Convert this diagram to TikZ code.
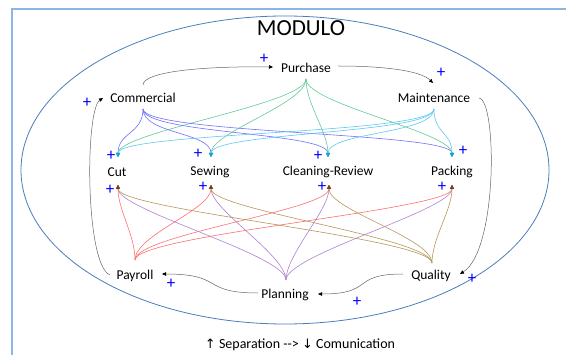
\documentclass[tikz,border=0pt]{standalone}
\usepackage{fontspec}
\setmainfont{Carlito}
\newfontfamily\arrowfont{DejaVu Sans}
\usetikzlibrary{arrows.meta}
\definecolor{frameblue}{RGB}{141,180,226}
\definecolor{ellblue}{RGB}{74,126,187}
\definecolor{cblu}{RGB}{110,110,255}
\definecolor{cgrn}{RGB}{100,200,150}
\definecolor{ccya}{RGB}{90,200,240}
\definecolor{cred}{RGB}{255,110,110}
\definecolor{cpur}{RGB}{175,130,210}
\definecolor{cbrn}{RGB}{180,150,90}
\definecolor{tiptop}{RGB}{20,165,205}
\definecolor{tipbot}{RGB}{125,65,20}
\definecolor{gline}{RGB}{100,100,100}
\begin{document}
\begin{tikzpicture}[x=1pt,y=-1pt,
  lbl/.style={font=\fontsize{13.5}{16}\selectfont, inner sep=0pt},
  plus/.style={text=blue, font=\fontsize{17}{18}\selectfont, inner sep=0pt},
  gcon/.style={draw=gline, line width=0.5pt, -{Triangle[length=4pt,width=3.5pt,color=black]}},
  toparr/.style={line width=0.6pt, draw=#1, -{Triangle[length=4pt,width=4pt,color=tiptop]}},
  botarr/.style={line width=0.6pt, draw=#1, -{Triangle[length=4pt,width=4pt,color=tipbot]}}]
\useasboundingbox (0,0) rectangle (566,355);
% frame
\draw[frameblue, line width=1.5pt] (12,355) -- (12,9) -- (566,9);
% ellipse
\draw[ellblue, line width=0.8pt] (285,170) ellipse [x radius=264, y radius=154];
% title
\node[lbl, font=\fontsize{23}{26}\selectfont] (modulo) at (301,28) {MODULO};
% labels
\node[lbl] (pur) at (306,68) {Purchase};
\node[lbl] (com) at (143,98) {Commercial};
\node[lbl] (mai) at (434,98) {Maintenance};
\node[lbl] (cut) at (117,172) {Cut};
\node[lbl] (sew) at (210,172) {Sewing};
\node[lbl] (cre) at (328,172) {Cleaning-Review};
\node[lbl] (pac) at (452,172) {Packing};
\node[lbl] (pay) at (135,276) {Payroll};
\node[lbl] (pla) at (285,295) {Planning};
\node[lbl] (qua) at (431,276) {Quality};
\node[lbl, font=\fontsize{14}{16}\selectfont] (note) at (300,345) {{\arrowfont\fontsize{13}{15}\selectfont↑} Separation -{}-{}> {\arrowfont\fontsize{13}{15}\selectfont↓} Comunication};
% anchor coordinates
\coordinate (comS) at (143,109);
\coordinate (purS) at (306,79);
\coordinate (maiS) at (434,109);
\coordinate (payS) at (135,260);
\coordinate (plaS) at (286,280);
\coordinate (quaS) at (432,263);
\coordinate (cutT) at (118,157);
\coordinate (sewT) at (211,157);
\coordinate (creT) at (328,157);
\coordinate (pacT) at (452,157);
\coordinate (cutB) at (118,185);
\coordinate (sewB) at (211,185);
\coordinate (creB) at (329,185);
\coordinate (pacB) at (452,185);
\coordinate (comTop) at (143,85);
\coordinate (purIn) at (273,67);
\coordinate (purOut) at (338,66);
\coordinate (maiIn) at (433,83);
\coordinate (maiOut) at (479,98);
\coordinate (quaIn) at (460,274);
\coordinate (quaOut) at (403,274);
\coordinate (plaIn) at (318,294);
\coordinate (plaOut) at (258,293);
\coordinate (payIn) at (162,274);
\coordinate (payOut) at (110,275);
\coordinate (comIn) at (103,98);
% cycle connectors
\draw[gcon] (comTop) .. controls (143,72) and (200,66) .. (purIn);
\draw[gcon] (purOut) .. controls (380,66) and (420,70) .. (maiIn);
\draw[gcon] (maiOut) .. controls (497,100) and (498,250) .. (quaIn);
\draw[gcon] (quaOut) .. controls (350,274) and (375,294) .. (plaIn);
\draw[gcon] (plaOut) .. controls (200,293) and (225,274) .. (payIn);
\draw[gcon] (payOut) .. controls (85,265) and (85,110) .. (comIn);
% colored influences (top)
\foreach \t in {cutT,sewT,creT,pacT} {
  \draw[toparr=cblu] (comS) .. controls +(0,25) and +(0,-25) .. (\t);
  \draw[toparr=cgrn] (purS) .. controls +(0,25) and +(0,-25) .. (\t);
}
\foreach \t in {cutT,sewT,creT,pacT}
  \draw[toparr=ccya] (maiS) .. controls +(0,25) and +(0,-25) .. (\t);
% colored influences (bottom)
\foreach \t in {cutB,sewB,creB,pacB} {
  \draw[botarr=cred] (payS) .. controls +(0,-25) and +(0,25) .. (\t);
  \draw[botarr=cpur] (plaS) .. controls +(0,-25) and +(0,25) .. (\t);
}
\foreach \t in {cutB,sewB,creB,pacB}
  \draw[botarr=cbrn] (quaS) .. controls +(0,-25) and +(0,25) .. (\t);
% plus signs
\node[plus] (p1) at (264,59) {+};
\node[plus] (p2) at (441,73) {+};
\node[plus] (p3) at (87,103) {+};
\node[plus] (p4) at (111,156) {+};
\node[plus] (p5) at (198,154) {+};
\node[plus] (p6) at (318,156) {+};
\node[plus] (p7) at (463,151) {+};
\node[plus] (p8) at (110,190) {+};
\node[plus] (p9) at (203,187) {+};
\node[plus] (p10) at (322,187) {+};
\node[plus] (p11) at (442,187) {+};
\node[plus] (p12) at (171,284) {+};
\node[plus] (p13) at (357,302) {+};
\node[plus] (p14) at (472,279) {+};
\end{tikzpicture}
\end{document}
